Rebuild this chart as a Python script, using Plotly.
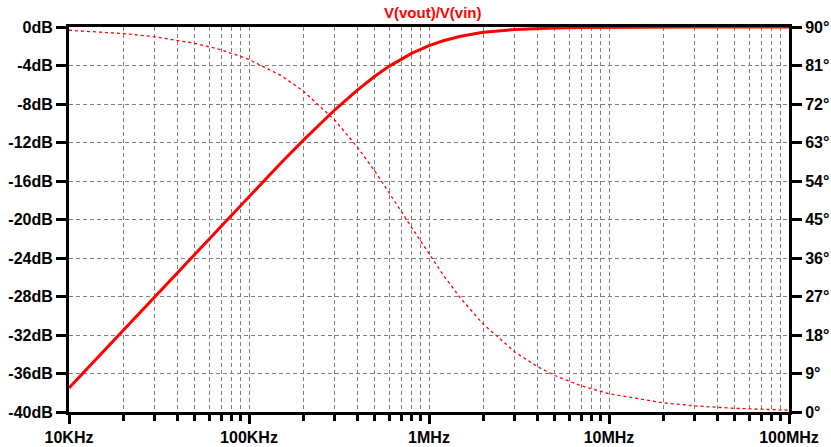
import plotly.graph_objects as go

# Frequencies (Hz) read along the x axis
freq = [1e4, 1.5e4, 2e4, 3e4, 5e4, 7e4, 1e5, 1.5e5, 2e5, 3e5, 4e5, 5e5, 6e5, 7e5,
        8e5, 1e6, 1.2e6, 1.5e6, 2e6, 3e6, 4e6, 5e6, 7e6, 1e7, 2e7, 3e7, 5e7, 1e8]
# Magnitude (dB) of V(vout)/V(vin)
mag_db = [-37.5, -34.0, -31.5, -27.97, -23.54, -20.64, -17.58, -14.15, -11.78, -8.60,
          -6.55, -5.12, -4.09, -3.33, -2.74, -1.94, -1.43, -0.97, -0.54, -0.26,
          -0.15, -0.10, -0.05, -0.024, -0.006, -0.003, -0.001, 0.0]
# Phase (degrees)
phase_deg = [89.24, 88.85, 88.47, 87.71, 86.19, 84.67, 82.41, 78.69, 75.07, 68.20,
             61.93, 56.31, 51.34, 46.97, 43.15, 36.87, 32.01, 26.57, 20.56, 14.04,
             10.62, 8.53, 6.12, 4.29, 2.15, 1.43, 0.86, 0.43]

title_text = "V(vout)/V(vin)"
x_major = [1e4, 1e5, 1e6, 1e7, 1e8]
x_major_text = ["10KHz", "100KHz", "1MHz", "10MHz", "100MHz"]
y_db_vals = list(range(0, -41, -4))
y_db_text = [f"{v}dB" for v in y_db_vals]
y_ph_vals = list(range(0, 91, 9))
y_ph_text = [f"{v}°" for v in y_ph_vals]

x_minor = [m * d for d in [1e4, 1e5, 1e6, 1e7] for m in range(2, 10)]

GRID = "#808080"
TICKFONT = dict(family="Liberation Sans, Arial", size=16, color="black", weight="bold")

fig = go.Figure()
fig.add_trace(go.Scatter(x=freq, y=phase_deg, yaxis="y2", mode="lines",
                         line=dict(color="#ff0000", width=1.3, dash="3px,3px"),
                         hoverinfo="skip", showlegend=False))
fig.add_trace(go.Scatter(x=freq, y=mag_db, mode="lines",
                         line=dict(color="#ff0000", width=3),
                         hoverinfo="skip", showlegend=False))

fig.update_layout(
    width=831, height=447,
    margin=dict(l=69, r=42, t=27, b=35, autoexpand=False),
    paper_bgcolor="white", plot_bgcolor="white",
    showlegend=False,
    xaxis=dict(type="log", range=[4, 8], tickmode="array", tickvals=x_major,
               ticktext=x_major_text, ticks="outside", ticklen=9, tickwidth=3,
               tickcolor="black", showline=True, linewidth=3, linecolor="black",
               mirror=True, showgrid=True, gridcolor=GRID, gridwidth=1,
               griddash="4px,3px", zeroline=False, layer="below traces",
               automargin=False, tickfont=TICKFONT,
               minor=dict(tickmode="array", tickvals=x_minor, ticks="outside",
                          ticklen=6, tickwidth=3, tickcolor="black", showgrid=True,
                          gridcolor=GRID, gridwidth=1, griddash="4px,3px")),
    yaxis=dict(range=[-40, 0], tickmode="array", tickvals=y_db_vals, ticktext=y_db_text,
               ticks="outside", ticklen=10, tickwidth=3, tickcolor="black",
               showline=True, linewidth=3, linecolor="black",
               showgrid=True, gridcolor=GRID, gridwidth=1, griddash="4px,3px",
               zeroline=False, layer="below traces", automargin=False,
               tickfont=TICKFONT),
    yaxis2=dict(range=[0, 90], overlaying="y", side="right", tickmode="array",
                tickvals=y_ph_vals, ticktext=y_ph_text, ticks="outside", ticklen=10,
                tickwidth=3, tickcolor="black", showline=True, linewidth=3,
                linecolor="black", showgrid=False, zeroline=False, layer="below traces",
                automargin=False, tickfont=TICKFONT),
)
fig.add_annotation(text=title_text, xref="paper", yref="paper", x=0.5056, y=1.0,
                   yanchor="bottom", yshift=4, showarrow=False,
                   font=dict(family="Liberation Sans, Arial", size=15, color="#ff0000", weight="bold"))

fig.write_html("out.html", config={"displayModeBar": False, "staticPlot": True},
               post_script="document.body.style.margin='0';document.body.style.overflow='hidden';")
